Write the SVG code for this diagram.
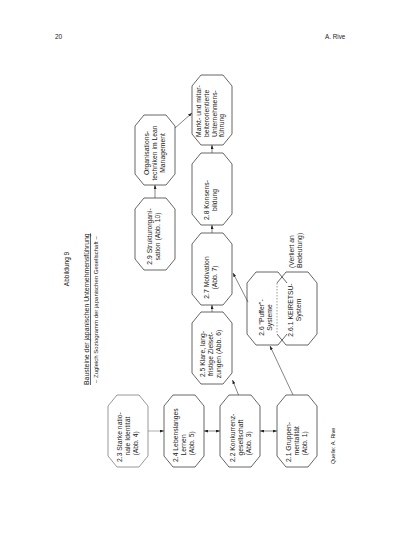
<svg xmlns="http://www.w3.org/2000/svg" width="400" height="556" viewBox="0 0 400 556">
<style>
text{font-family:"Liberation Sans",Arial,sans-serif;fill:#222;}
.t{font-size:6.8px;}
.m{text-anchor:middle;}
.box{fill:none;stroke:#333;stroke-width:0.75;}
.lt{stroke:#777;}
.con{fill:none;stroke:#333;stroke-width:0.6;}
</style>
<defs>
<marker id="ah" viewBox="0 0 8 6" refX="8" refY="3" markerWidth="4" markerHeight="3" orient="auto-start-reverse" markerUnits="userSpaceOnUse"><path d="M0,0 L8,3 L0,6 Z" fill="#222"/></marker>
</defs>
<rect width="400" height="556" fill="#fff"/>
<g id="header">
<text x="55" y="39" style="font-size:6.5px">20</text>
<text x="325" y="39" style="font-size:6.3px">A. Rive</text>
</g>
<g id="title">
<text transform="translate(69,269) rotate(-90)" class="m" style="font-size:6.5px">Abbildung 9</text>
<text transform="translate(89,385) rotate(-90)" style="font-size:6.9px;text-decoration:underline">Bausteine der japanischen Unternehmensführung</text>
<text transform="translate(97.5,383) rotate(-90)" style="font-size:6px">– Zugleich Soziogramm der japanischen Gesellschaft –</text>
</g>
<g id="connectors">
<path class="con" style="stroke:#777" d="M148,431 L164,431" marker-end="url(#ah)"/>
<path class="con" d="M204,431 L220,431" marker-start="url(#ah)" marker-end="url(#ah)"/>
<path class="con" d="M260,431 L277,431" marker-start="url(#ah)" marker-end="url(#ah)"/>
<path class="con" d="M238.5,395 L232.5,380" marker-end="url(#ah)"/>
<path class="con" d="M293,395 L270,346" marker-end="url(#ah)"/>
<path class="con" d="M248,302 L233,273" marker-end="url(#ah)"/>
<path class="con" d="M212,312 L212,305" marker-end="url(#ah)"/>
<path class="con" d="M212,233 L212,225" marker-end="url(#ah)"/>
<path class="con" d="M212,153 L212,145" marker-end="url(#ah)"/>
<path class="con" d="M155,198 L155,185" marker-end="url(#ah)"/>
<path class="con" d="M175,128 L192,113" marker-end="url(#ah)"/>
</g>
<g id="n23">
<path class="box lt" d="M117,395 L139,395 L148,406 L148,456 L139,467 L117,467 L108,456 L108,406 Z"/>
<text class="t" transform="translate(122.4,462) rotate(-90)">2.3 Starke natio-</text>
<text class="t" transform="translate(130.2,455.5) rotate(-90)">nale Identität</text>
<text class="t" transform="translate(138,455.5) rotate(-90)">(Abb. 4)</text>
</g>
<g id="n24">
<path class="box" d="M173,395 L195,395 L204,406 L204,456 L195,467 L173,467 L164,456 L164,406 Z"/>
<text class="t" transform="translate(178.4,462) rotate(-90)">2.4 Lebenslanges</text>
<text class="t" transform="translate(186.2,455.5) rotate(-90)">Lernen</text>
<text class="t" transform="translate(194,455.5) rotate(-90)">(Abb. 5)</text>
</g>
<g id="n22">
<path class="box" d="M229,395 L251,395 L260,406 L260,456 L251,467 L229,467 L220,456 L220,406 Z"/>
<text class="t" transform="translate(234.9,462) rotate(-90)">2.2 Konkurrenz-</text>
<text class="t" transform="translate(242.7,455.5) rotate(-90)">gesellschaft</text>
<text class="t" transform="translate(250.5,455.5) rotate(-90)">(Abb. 3)</text>
</g>
<g id="n21">
<path class="box" d="M286,395 L308,395 L317,406 L317,456 L308,467 L286,467 L277,456 L277,406 Z"/>
<text class="t" transform="translate(291.4,462) rotate(-90)">2.1 Gruppen-</text>
<text class="t" transform="translate(299.2,455.5) rotate(-90)">mentalität</text>
<text class="t" transform="translate(307,455.5) rotate(-90)">(Abb. 1)</text>
</g>
<g id="n25">
<path class="box" d="M201,312 L223,312 L232,323 L232,373 L223,384 L201,384 L192,373 L192,323 Z"/>
<text class="t m" transform="translate(205.4,354) rotate(-90)">2.5 Klare, lang-</text>
<text class="t m" transform="translate(213.2,354) rotate(-90)">fristige Zielset-</text>
<text class="t m" transform="translate(221,354) rotate(-90)">zungen (Abb. 6)</text>
</g>
<g id="n27">
<path class="box" d="M201,233 L223,233 L232,244 L232,294 L223,305 L201,305 L192,294 L192,244 Z"/>
<text class="t m" transform="translate(209.3,277.5) rotate(-90)">2.7 Motivation</text>
<text class="t m" transform="translate(217.1,277.5) rotate(-90)">(Abb. 7)</text>
</g>
<g id="n28">
<path class="box" d="M201,153 L223,153 L232,164 L232,214 L223,225 L201,225 L192,214 L192,164 Z"/>
<text class="t m" transform="translate(209.3,200) rotate(-90)">2.8 Konsens-</text>
<text class="t m" transform="translate(217.1,200) rotate(-90)">bildung</text>
</g>
<g id="nMarkt">
<path class="box" d="M201,75 L223,75 L232,86 L232,134 L223,145 L201,145 L192,134 L192,86 Z"/>
<text class="t" transform="translate(201,137) rotate(-90)">Markt- und mitar-</text>
<text class="t" transform="translate(208.8,137) rotate(-90)">beiterorientierte</text>
<text class="t" transform="translate(216.6,137) rotate(-90)">Unternehmens-</text>
<text class="t" transform="translate(224.4,137) rotate(-90)">führung</text>
</g>
<g id="n29">
<path class="box" d="M144,198 L166,198 L175,209 L175,259 L166,270 L144,270 L135,259 L135,209 Z"/>
<text class="t m" transform="translate(152.3,236.5) rotate(-90)">2.9 Strukturorgani-</text>
<text class="t m" transform="translate(160.1,236.5) rotate(-90)">sation (Abb. 10)</text>
</g>
<g id="nOrg">
<path class="box" d="M144,115 L166,115 L175,126 L175,174 L166,185 L144,185 L135,174 L135,126 Z"/>
<text class="t m" transform="translate(149.4,153) rotate(-90)">Organisations-</text>
<text class="t m" transform="translate(157.2,153) rotate(-90)">techniken im Lean</text>
<text class="t m" transform="translate(165,153) rotate(-90)">Management</text>
</g>
<g id="n26">
<path class="box" d="M287,334 L278,345 L256,345 L247,334 L247,283 L256,272 L278,272 L287,283"/>
<text class="t m" transform="translate(264.3,317.5) rotate(-90)">2.6 "Puffer"-</text>
<text class="t m" transform="translate(272.1,317.5) rotate(-90)">Systeme</text>
</g>
<g id="n261">
<path class="box" d="M277,283 L286,272 L308,272 L317,283 L317,334 L308,345 L286,345 L277,334"/>
<path class="box" style="stroke-dasharray:1.5 1.5;stroke-width:0.5" d="M277,283 L277,334"/>
<text class="t m" transform="translate(292.8,310) rotate(-90)">2.6.1 KEIRETSU-</text>
<text class="t m" transform="translate(300.6,310) rotate(-90)">System</text>
</g>
<g id="note">
<text class="t" transform="translate(294,268) rotate(-90)">(Verliert an</text>
<text class="t" transform="translate(302,268) rotate(-90)">Bedeutung)</text>
</g>
<g id="source">
<text transform="translate(335,464) rotate(-90)" style="font-size:5.5px">Quelle: A. Rive</text>
</g>
</svg>
